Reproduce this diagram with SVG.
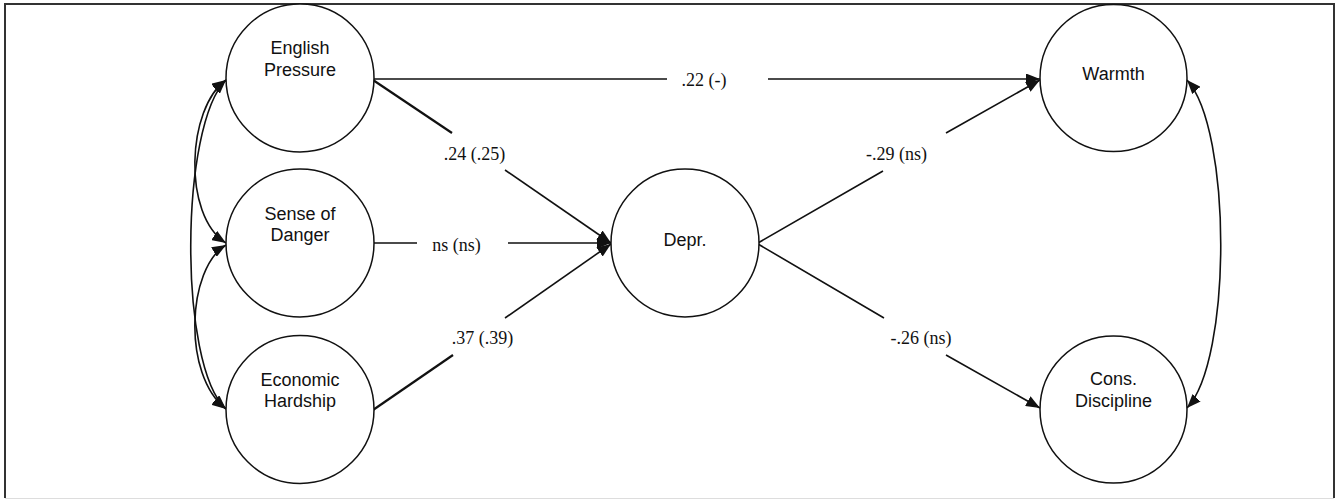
<svg xmlns="http://www.w3.org/2000/svg" width="1341" height="502" viewBox="0 0 1341 502">
  <style>
    .node circle { fill: #ffffff; stroke: #111111; stroke-width: 1.5; }
    .node text { font-family: "Liberation Sans", Arial, sans-serif; font-size: 18px; fill: #111111; text-anchor: middle; }
    .edge { fill: none; stroke: #111111; stroke-width: 1.6; }
    .edge.heavy { stroke-width: 2.2; }
    .coef { font-family: "Liberation Serif", "Times New Roman", serif; font-size: 18px; fill: #111111; text-anchor: middle; }
  </style>
  <defs>
    <marker id="head" viewBox="0 0 14 11" markerUnits="userSpaceOnUse" markerWidth="14" markerHeight="11" refX="14" refY="5.5" orient="auto-start-reverse">
      <path d="M0,0 L14,5.5 L0,11 Z" fill="#111111"/>
    </marker>
  </defs>

  <rect x="0" y="0" width="1341" height="502" fill="#ffffff"/>

  <!-- frame -->
  <g id="frame">
    <path d="M5,498 V4 H1334 V498" fill="none" stroke="#333333" stroke-width="2"/>
    <path d="M5,498.5 H1334" fill="none" stroke="#dddddd" stroke-width="1"/>
  </g>

  <!-- paths -->
  <g id="connectors">
    <!-- English Pressure -> Warmth -->
    <path class="edge" d="M373,79 H667 M768,79 H1040" marker-end="url(#head)"/>
    <!-- English Pressure -> Depr. -->
    <path class="edge heavy" d="M373,80 L452,133"/>
    <path class="edge" d="M505,170 L611,243" marker-end="url(#head)"/>
    <!-- Sense of Danger -> Depr. -->
    <path class="edge" d="M373,243 H417 M508,243 H611" marker-end="url(#head)"/>
    <!-- Economic Hardship -> Depr. -->
    <path class="edge heavy" d="M373,410 L453,355"/>
    <path class="edge" d="M505,318 L611,244" marker-end="url(#head)"/>
    <!-- Depr. -> Warmth -->
    <path class="edge" d="M758,243 L883,171 M946,133 L1040,80" marker-end="url(#head)"/>
    <!-- Depr. -> Cons. Discipline -->
    <path class="edge" d="M758,244 L884,318 M946,355 L1040,408" marker-end="url(#head)"/>

    <!-- covariances among exogenous factors -->
    <path class="edge" d="M226,80 C187,108 182,215 226,243" marker-start="url(#head)" marker-end="url(#head)"/>
    <path class="edge" d="M226,245 C187,268 182,375 226,409" marker-start="url(#head)" marker-end="url(#head)"/>
    <path class="edge" d="M226,80 C180,125 178,365 226,409" marker-start="url(#head)" marker-end="url(#head)"/>
    <!-- covariance between outcomes -->
    <path class="edge" d="M1187,80 C1232,130 1232,360 1187,408" marker-start="url(#head)" marker-end="url(#head)"/>

    <!-- coefficients -->
    <text class="coef" x="704" y="86">.22 (-)</text>
    <text class="coef" x="474.5" y="160">.24 (.25)</text>
    <text class="coef" x="456.5" y="251">ns (ns)</text>
    <text class="coef" x="482.5" y="343.5">.37 (.39)</text>
    <text class="coef" x="896.5" y="160">-.29 (ns)</text>
    <text class="coef" x="921" y="344">-.26 (ns)</text>
  </g>

  <g id="english-pressure" class="node">
    <circle cx="300" cy="78" r="74"/>
    <text x="300" y="54">English</text>
    <text x="300" y="76">Pressure</text>
  </g>
  <g id="sense-of-danger" class="node">
    <circle cx="300" cy="243" r="74"/>
    <text x="300" y="220">Sense of</text>
    <text x="300" y="241">Danger</text>
  </g>
  <g id="economic-hardship" class="node">
    <circle cx="300" cy="409.5" r="74"/>
    <text x="300" y="385.5">Economic</text>
    <text x="300" y="407">Hardship</text>
  </g>
  <g id="depr" class="node">
    <circle cx="685" cy="243" r="74"/>
    <text x="685" y="246">Depr.</text>
  </g>
  <g id="warmth" class="node">
    <circle cx="1113.5" cy="78" r="73.5"/>
    <text x="1113.5" y="80">Warmth</text>
  </g>
  <g id="cons-discipline" class="node">
    <circle cx="1113.5" cy="409.5" r="73.5"/>
    <text x="1113.5" y="385">Cons.</text>
    <text x="1113.5" y="407">Discipline</text>
  </g>
</svg>
